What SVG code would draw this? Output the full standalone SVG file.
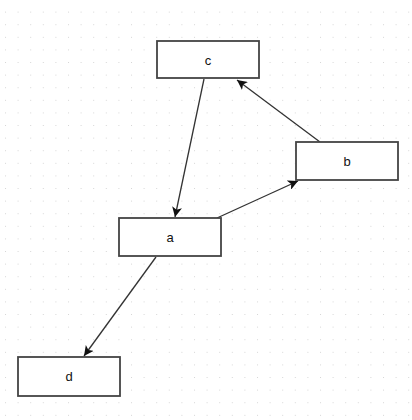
<svg xmlns="http://www.w3.org/2000/svg" width="412" height="420" viewBox="0 0 412 420">
<defs>
<pattern id="grid" x="5" y="0" width="12.6" height="12.6" patternUnits="userSpaceOnUse">
<rect x="0" y="12" width="1" height="1" fill="#bdbdbd"/>
</pattern>
<marker id="arr" viewBox="0 0 10 10" refX="10" refY="5" markerWidth="10" markerHeight="10" markerUnits="userSpaceOnUse" orient="auto">
<path d="M0,0 L10,5 L0,10 L2.5,5 Z" fill="#111"/>
</marker>
<style>
.node rect{fill:#fff;stroke:#444;stroke-width:1.8}
.node text{font-family:"Liberation Sans",Arial,sans-serif;font-size:13px;fill:#111;text-anchor:middle;dominant-baseline:central}
.edge{stroke:#333;stroke-width:1.3;fill:none;marker-end:url(#arr)}
</style>
</defs>
<rect width="412" height="420" fill="#fff"/>
<rect width="412" height="420" fill="url(#grid)"/>
<g id="connectors">
<line class="edge" x1="204" y1="79" x2="175" y2="217"/>
<line class="edge" x1="320" y1="142" x2="237" y2="80"/>
<line class="edge" x1="217" y1="218" x2="298" y2="181"/>
<line class="edge" x1="156" y1="257" x2="84" y2="356"/>
</g>
<g id="node-c" class="node"><rect x="157" y="41" width="102" height="37"/><text x="208" y="60">c</text></g>
<g id="node-b" class="node"><rect x="296" y="142" width="102" height="38"/><text x="347" y="161">b</text></g>
<g id="node-a" class="node"><rect x="119" y="218" width="102" height="38"/><text x="170" y="237">a</text></g>
<g id="node-d" class="node"><rect x="18" y="357" width="102" height="39"/><text x="69" y="376">d</text></g>
</svg>
